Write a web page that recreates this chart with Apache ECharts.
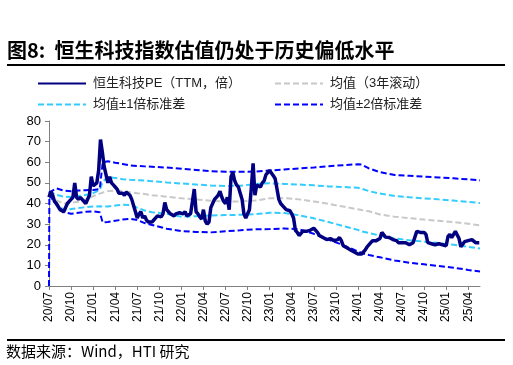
<!DOCTYPE html>
<html><head><meta charset="utf-8">
<script src="https://cdn.jsdelivr.net/npm/echarts@6/dist/echarts.min.js"></script>
<style>html,body{margin:0;padding:0;background:#fff}#c{width:513px;height:365px}</style>
</head><body><div id="c"></div>
<script>
// x = months since 2020-07
const quarterTicks = [0,3,6,9,12,15,18,21,24,27,30,33,36,39,42,45,48,51,54,57];
const peStep = 0.25;
const peValues = [
43,46,44,41, 40,40,37,36.5, 36,38,40,41, 42,43,50,43, 42,43,42,41.5,
40,42,44,53, 48.5,48,50,56, 71,65,58,57.5, 50,53,50,49, 48,47,45,44.5,
45,44,45.5,46, 44,42,39,36, 33,35,36,33, 34,32,31,31.5, 31,32,33,34,
34,33.5,35,40.5, 37,36,35,35.5, 34,35,34.5,35.5, 36,35,36,34, 33.5,35,41,47,
36,35,33.5,32.5, 37,31.5,30,31, 38,40,42,43, 44,46,43,41, 40,43,37,53,
55,51,49,48, 45,42,35,33, 32.5,37,47,59.5, 44,49,49,48, 50,51,54,54.5,
56,56,53.5,52, 47,42,40,39, 38,37,37.5,36.5, 35,33,27,26, 24.5,25,26.5,26.5,
26.5,27,27,27.5, 28,28,26,24.5, 24,23.5,23,22.5, 22.5,23,22.5,22, 21.5,22.5,23.5,22,
19.5,19,18.5,18, 17.5,17,16.5,16.5, 15.5,16,15.5,16.5, 17.5,19,19.5,21, 22,21.5,22,22.5,
23,26,26.5,23.7, 23,23.5,23,22.5, 23,22,21,21.5, 21,20.5,21,20.5, 20,20.5,21,20.5,
26.5,27,26,25.5, 26,25,21,21.5, 20.5,21,20,20.5, 20.5,21,20,19.5, 19.5,24,25,23.5,
24,26.5,27,23, 19,19.5,21.5,21, 22,21.5,22.5,23, 21,21.5,21
];
const bandMonths = [0,0.05,1,2,3,4,5,6,6.9,7.3,8,9,10,11,12,13,14,16,18,20,22,24,26,28,30,32,34,36,38,40,42,42.5,43.5,45,47,49,51,53,55,57,58.6];
const meanValues = [44.5,44.4,41.5,40,40.3,40.8,42,43.5,44.8,45.3,46,46.3,46,45.5,45,44.6,44,43.3,42.5,42,41.3,41,41,41.4,42.5,42.6,42,41,39.8,38.5,37.2,36.8,36.2,34.7,33.6,32.9,32.2,31.6,31,30.2,29.4];
const up1Values = [45.9,45.9,44.2,43.3,43.2,43.6,44.1,45,46.6,50.5,52.8,52.4,51.8,51.5,51.3,51.1,50.8,50.2,49.7,49.2,48.7,48.5,48.6,49.4,49.8,49.5,49.2,48.8,48.3,48,47.6,47.2,46,44.8,43.6,43,42.5,42,41.4,40.8,40.2];
const lo1Values = [44.2,44,39.3,37,37.3,37.8,38.2,38.5,38.7,38.5,38.6,39,39.4,39.3,38,36.6,35.8,35,33.6,33.8,34.2,34.4,34.5,34.8,35.5,35.4,34.3,32.8,31,29.1,27.2,26.5,25.7,24.4,23,22.2,21.5,20.8,20,19,18.2];
const up2Values = [45.2,45.5,47.3,46.3,45.9,46.3,46.4,46.6,47,60,60.5,59.8,59.2,58.5,58.2,58,57.8,57.4,56.9,56.3,55.6,55.4,55.4,55.5,56,56.5,57,57.5,58.1,58.6,59,58.9,57,55.2,53.8,53.4,53,52.6,52.2,51.7,51.2];
const lo2Values = [0,44,40,35.8,35,35.5,36,36.2,35.8,30.8,31,31.6,32.2,32.6,32,30.5,29.6,27.8,26.6,26.2,26,26.6,27,27.5,27.6,27.9,27.5,25.3,22.5,19.8,16.8,16,15,13.9,12.4,11.3,10.5,9.7,8.9,7.8,7];
const names = ['恒生科技PE（TTM，倍）','均值（3年滚动）','均值±1倍标准差','均值±2倍标准差'];

function pairs(xs, ys){ return ys.map((v,i)=>[xs[i], v]); }
const peData = peValues.map((v,i)=>[i*peStep, v]);
function fmt(m){ m=Math.round(m); const y=20+Math.floor((6+m)/12); const mo=((6+m)%12)+1; return y+'/'+(mo<10?'0':'')+mo; }

const chart = echarts.init(document.getElementById('c'));
const font = 'Liberation Sans, Arial, Noto Sans CJK SC, sans-serif';
const dash = [6,3];
function legendAt(name,left,top){
  return {data:[name],left:left,top:top,itemWidth:48,itemHeight:12,itemGap:0,padding:0,
    itemStyle:{opacity:0,color:'transparent',borderWidth:0},
    textStyle:{fontSize:13,color:'#222',fontFamily:font,padding:[0,0,0,2]}};
}
chart.setOption({
  animation:false,
  backgroundColor:'#fff',
  textStyle:{fontFamily:font},
  grid:{left:49,right:33,top:121,bottom:79,containLabel:false},
  legend:[legendAt(names[0],37,77),legendAt(names[1],274,77),legendAt(names[2],37,98),legendAt(names[3],274,98)],
  xAxis:{type:'value',min:0,max:58.6,interval:3,
    axisLine:{show:true,lineStyle:{color:'#808080',width:1}},
    axisTick:{show:true,length:4,lineStyle:{color:'#808080'},customValues:quarterTicks},
    axisLabel:{rotate:90,fontSize:12,color:'#000',margin:6,fontFamily:font,customValues:quarterTicks,formatter:fmt},
    splitLine:{show:false}},
  yAxis:{type:'value',min:0,max:80,interval:10,
    axisLine:{show:true,lineStyle:{color:'#808080',width:1}},
    axisTick:{show:true,length:4,lineStyle:{color:'#808080'}},
    axisLabel:{fontSize:13,color:'#000',margin:8,fontFamily:font},
    splitLine:{show:false}},
  series:[
    {name:names[1],type:'line',data:pairs(bandMonths,meanValues),symbol:'none',z:2,
     lineStyle:{color:'#C8C8C8',width:2,type:dash},itemStyle:{color:'#C8C8C8'}},
    {name:names[2],type:'line',data:pairs(bandMonths,up1Values),symbol:'none',z:2,
     lineStyle:{color:'#33CCFF',width:2,type:dash},itemStyle:{color:'#33CCFF'}},
    {name:names[2],type:'line',data:pairs(bandMonths,lo1Values),symbol:'none',z:2,
     lineStyle:{color:'#33CCFF',width:2,type:dash},itemStyle:{color:'#33CCFF'}},
    {name:names[3],type:'line',data:pairs(bandMonths,up2Values),symbol:'none',z:2,
     lineStyle:{color:'#0000FF',width:2,type:dash},itemStyle:{color:'#0000FF'}},
    {name:names[3],type:'line',data:pairs(bandMonths,lo2Values),symbol:'none',z:2,
     lineStyle:{color:'#0000FF',width:2,type:dash},itemStyle:{color:'#0000FF'}},
    {name:names[0],type:'line',data:peData,symbol:'none',z:5,
     lineStyle:{color:'#000080',width:3.5},itemStyle:{color:'#000080'}}
  ],
  graphic:[
    {type:'text',left:7,top:40,style:{text:'图8:  恒生科技指数估值仍处于历史偏低水平',font:'bold 20px "Noto Sans CJK SC", sans-serif',fill:'#000'}},
    {type:'rect',shape:{x:7,y:64,width:498,height:2},style:{fill:'#000'}},
    {type:'rect',shape:{x:7,y:339,width:498,height:2},style:{fill:'#000'}},
    {type:'text',left:6,top:344,style:{text:'数据来源：Wind，HTI 研究',font:'15px "Noto Sans CJK SC", sans-serif',fill:'#000'}}
  ]
});
</script></body></html>
